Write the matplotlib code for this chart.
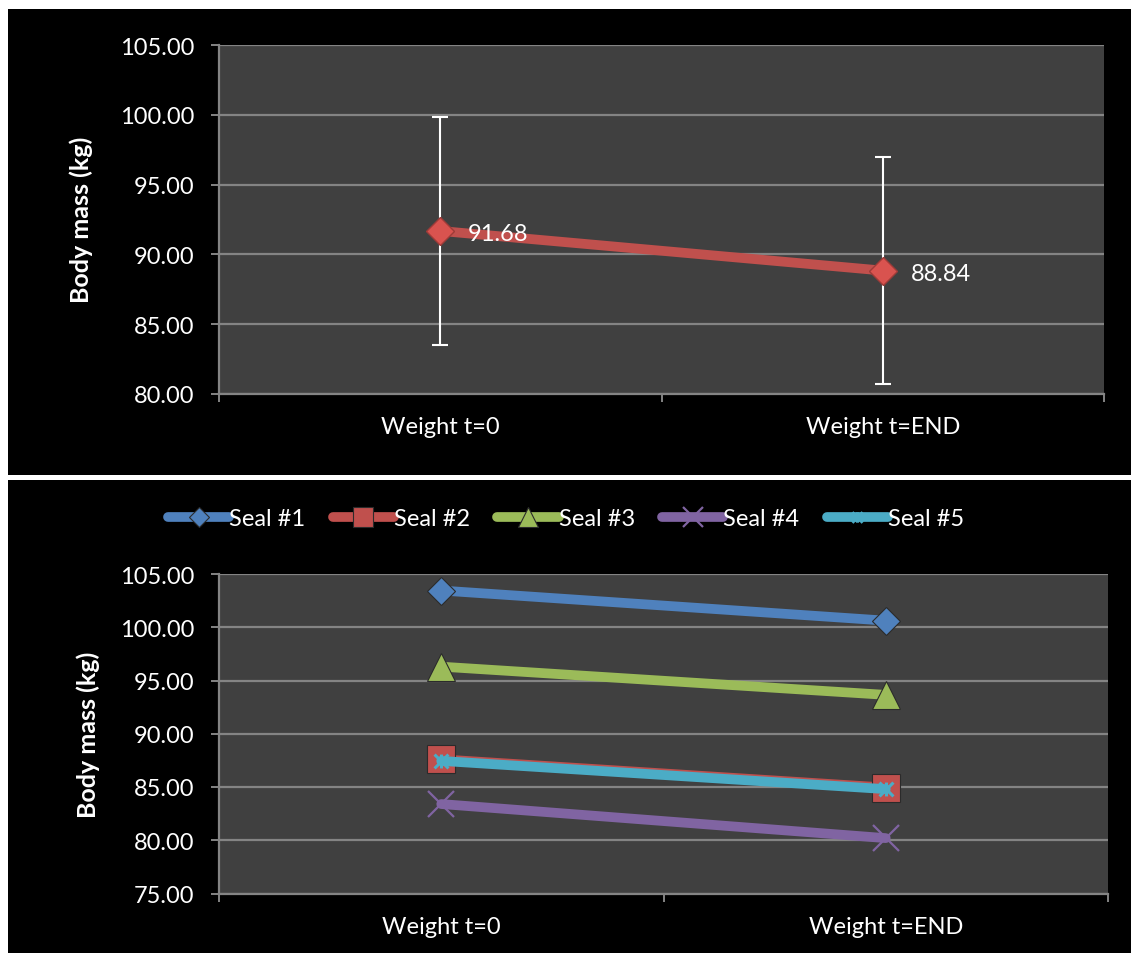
import matplotlib.pyplot as plt
from matplotlib.patches import Rectangle
from matplotlib.path import Path

plt.rcParams['font.family'] = ['Lato', 'DejaVu Sans']

W, H = 1131, 954

categories = ["Weight t=0", "Weight t=END"]
mean_mass = [91.68, 88.84]
mass_sd = [8.15, 8.13]

seal_names = ["Seal #1", "Seal #2", "Seal #3", "Seal #4", "Seal #5"]
seal1 = [103.45, 100.62]
seal2 = [87.6, 84.95]
seal3 = [96.3, 93.65]
seal4 = [83.4, 80.2]
seal5 = [87.45, 84.8]

top_ticks = [80, 85, 90, 95, 100, 105]
bottom_ticks = [75, 80, 85, 90, 95, 100, 105]

BG = '#404040'
GRID = '#848484'

# asterisk marker like Excel's "star": x plus a vertical bar
star = Path([(0, -1), (0, 1), (-1, -1), (1, 1), (-1, 1), (1, -1)],
            [Path.MOVETO, Path.LINETO, Path.MOVETO, Path.LINETO, Path.MOVETO, Path.LINETO])

fig = plt.figure(figsize=(W / 100, H / 100), dpi=100, facecolor='white')
fig.add_artist(Rectangle((8 / W, 478 / H), 1123 / W, 466 / H, transform=fig.transFigure,
                         facecolor='black', edgecolor='none', zorder=-10))
fig.add_artist(Rectangle((8 / W, 0), 1123 / W, 473 / H, transform=fig.transFigure,
                         facecolor='black', edgecolor='none', zorder=-10))


def style_axes(ax, ticks):
    ax.set_facecolor(BG)
    ax.set_xlim(0, 2)
    ax.set_ylim(ticks[0], ticks[-1])
    ax.set_yticks(ticks)
    ax.set_yticklabels(["%.2f" % t for t in ticks])
    ax.yaxis.grid(True, color=GRID, linewidth=1.6)
    ax.set_axisbelow(True)
    for s in ['top', 'right']:
        ax.spines[s].set_visible(False)
    for s in ['left', 'bottom']:
        ax.spines[s].set_color(GRID)
        ax.spines[s].set_linewidth(1.6)
    ax.tick_params(axis='y', colors=GRID, length=6, width=1.4, pad=12,
                   labelcolor='white', labelsize=17)
    ax.set_xticks([0, 1, 2])
    ax.set_xticklabels([])
    ax.tick_params(axis='x', which='major', colors=GRID, length=6, width=1.4)
    ax.set_xticks([0.5, 1.5], minor=True)
    ax.set_xticklabels(categories, minor=True)
    ax.tick_params(axis='x', which='minor', length=0, pad=16,
                   labelcolor='white', labelsize=17)


x = [0.5, 1.5]

# top: mean body mass with error bars
ax1 = fig.add_axes([219 / W, 559 / H, 885 / W, 349 / H])
style_axes(ax1, top_ticks)
ax1.errorbar(x, mean_mass, yerr=mass_sd, fmt='none', ecolor='white',
             elinewidth=1.5, capsize=6, capthick=1.5, zorder=2)
ax1.plot(x, mean_mass, color='#C0504D', linewidth=7, marker='D', markersize=14,
         markerfacecolor='#D9534F', markeredgecolor='#9E3B38', markeredgewidth=1,
         solid_capstyle='round', zorder=3)
for xi, yi in zip(x, mean_mass):
    ax1.annotate("%.2f" % yi, (xi, yi), xytext=(20, -2), textcoords='offset points',
                 color='white', fontsize=17, va='center', ha='left')
fig.text(81 / W, (H - 220) / H, "Body mass (kg)", rotation=90, color='white',
         fontsize=18, fontweight='bold', ha='center', va='center')

# bottom: individual seals
ax2 = fig.add_axes([219 / W, 59.5 / H, 889 / W, 319.5 / H])
style_axes(ax2, bottom_ticks)
seal_series = [seal1, seal2, seal3, seal4, seal5]
colors = ['#4F81BD', '#C0504D', '#9BBB59', '#8064A2', '#4BACC6']
markers = ['D', 's', '^', 'x', star]
msizes = [14, 20, 20, 19, 10]
for i, (vals, c, m, ms) in enumerate(zip(seal_series, colors, markers, msizes)):
    if i == 3:
        kw = dict(markeredgecolor=c, markeredgewidth=1.6)
    elif i == 4:
        kw = dict(markeredgecolor=c, markeredgewidth=2.2, markerfacecolor='none')
    else:
        kw = dict(markerfacecolor=c, markeredgecolor='#2b2b2b', markeredgewidth=0.8)
    ax2.plot(x, vals, color=c, linewidth=7, marker=m, markersize=ms,
             solid_capstyle='round', label=seal_names[i], zorder=3 + i, **kw)
fig.text(88 / W, (H - 735) / H, "Body mass (kg)", rotation=90, color='white',
         fontsize=18, fontweight='bold', ha='center', va='center')

leg = fig.legend(*ax2.get_legend_handles_labels(), loc='center', ncol=5,
                 bbox_to_anchor=(566 / W, (H - 520) / H), frameon=False,
                 fontsize=17, labelcolor='white', handlelength=2.6,
                 handletextpad=0.0, columnspacing=1.15, markerscale=0.75)

fig.savefig('out.png', dpi=100, facecolor='white')
